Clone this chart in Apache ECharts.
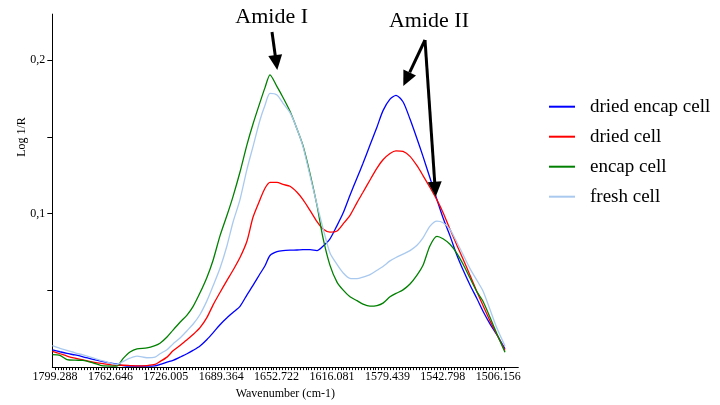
<!DOCTYPE html>
<html>
<head>
<meta charset="utf-8">
<script src="https://cdn.jsdelivr.net/npm/echarts@6/dist/echarts.min.js"></script>
<style>html,body{margin:0;padding:0;background:#fff;}#c{width:720px;height:405px;}</style>
</head>
<body>
<div id="c"></div>
<script>
// Wavenumbers (cm-1) at which values were read
const wavenumbers = [1801.0,1795.98,1791.35,1786.06,1780.77,1774.15,1767.54,1758.28,1754.31,1749.68,
1745.05,1738.44,1733.15,1729.84,1725.21,1721.24,1716.61,1711.98,1708.01,1703.38,
1698.76,1694.79,1690.16,1685.53,1681.56,1676.93,1672.30,1668.33,1663.70,1660.40,
1657.09,1652.46,1648.49,1643.86,1639.23,1635.26,1630.63,1626.00,1622.04,1617.41,
1612.78,1608.81,1604.18,1599.55,1595.58,1590.95,1586.32,1582.35,1577.72,1573.76,
1569.13,1564.50,1559.87,1555.90,1551.27,1546.64,1542.67,1538.04,1533.41,1529.44,
1524.81,1520.18,1516.22,1511.59,1506.96,1501.67];

const driedEncapCell = [0.0113,0.0100,0.0089,0.0079,0.0067,0.0050,0.0036,0.0019,0.0010,0.0006,
0.0006,0.0006,0.0008,0.0017,0.0033,0.0044,0.0065,0.0087,0.0109,0.0138,
0.0180,0.0223,0.0276,0.0321,0.0356,0.0396,0.0471,0.0532,0.0608,0.0660,
0.0727,0.0752,0.0759,0.0762,0.0763,0.0765,0.0765,0.0759,0.0788,0.0836,
0.0922,0.1002,0.1120,0.1232,0.1328,0.1447,0.1565,0.1671,0.1746,0.1771,
0.1729,0.1616,0.1488,0.1373,0.1232,0.1090,0.0973,0.0855,0.0727,0.0634,
0.0535,0.0445,0.0364,0.0282,0.0209,0.0119];

const driedCell = [0.0102,0.0087,0.0072,0.0058,0.0047,0.0033,0.0023,0.0012,0.0012,0.0010,
0.0008,0.0010,0.0017,0.0036,0.0065,0.0106,0.0141,0.0179,0.0212,0.0257,
0.0324,0.0404,0.0486,0.0565,0.0631,0.0714,0.0822,0.0976,0.1091,0.1165,
0.1203,0.1203,0.1190,0.1178,0.1139,0.1091,0.1021,0.0948,0.0900,0.0880,
0.0887,0.0932,0.0989,0.1072,0.1139,0.1219,0.1296,0.1351,0.1392,0.1409,
0.1405,0.1373,0.1312,0.1248,0.1170,0.1088,0.1008,0.0898,0.0793,0.0704,
0.0599,0.0490,0.0401,0.0301,0.0211,0.0108];

const encapCell = [0.0081,0.0076,0.0049,0.0045,0.0044,0.0028,0.0008,0.0007,0.0055,0.0098,
0.0119,0.0125,0.0140,0.0155,0.0196,0.0241,0.0292,0.0339,0.0394,0.0484,
0.0586,0.0695,0.0855,0.0989,0.1111,0.1271,0.1450,0.1584,0.1725,0.1821,
0.1904,0.1827,0.1757,0.1667,0.1552,0.1443,0.1261,0.1053,0.0842,0.0663,
0.0554,0.0503,0.0458,0.0433,0.0410,0.0397,0.0401,0.0417,0.0458,0.0480,
0.0503,0.0541,0.0599,0.0663,0.0791,0.0852,0.0836,0.0800,0.0740,0.0672,
0.0580,0.0490,0.0429,0.0324,0.0215,0.0097];

const freshCell = [0.0140,0.0122,0.0109,0.0093,0.0079,0.0060,0.0040,0.0017,0.0036,0.0058,
0.0072,0.0061,0.0065,0.0087,0.0113,0.0151,0.0189,0.0237,0.0279,0.0343,
0.0433,0.0528,0.0644,0.0791,0.0944,0.1091,0.1290,0.1437,0.1610,0.1706,
0.1783,0.1773,0.1719,0.1658,0.1552,0.1437,0.1248,0.1059,0.0906,0.0743,
0.0669,0.0615,0.0578,0.0576,0.0586,0.0602,0.0631,0.0656,0.0692,0.0714,
0.0736,0.0759,0.0794,0.0842,0.0919,0.0951,0.0941,0.0898,0.0812,0.0733,
0.0642,0.0564,0.0496,0.0375,0.0253,0.0138];

const xTickLabels = [1799.288,1762.646,1726.005,1689.364,1652.722,1616.081,1579.439,1542.798,1506.156];
const yTickLabels = [0.1, 0.2];
const seriesNames = ['dried encap cell','dried cell','encap cell','fresh cell'];
const seriesColors = ['#0000ff','#ff0000','#008000','#a9c9ef'];

// minor ticks at the instrument sampling step between labelled ticks
const step = (xTickLabels[0]-xTickLabels[1])/19;
const minorTicks = [];
for (let k = 0; k <= 154; k++) minorTicks.push(+(xTickLabels[0] - k*step).toFixed(4));

const font = 'Liberation Serif';
const pair = arr => wavenumbers.map((w,i)=>[w, arr[i]]);
const seriesData = [driedEncapCell, driedCell, encapCell, freshCell];

const chart = echarts.init(document.getElementById('c'), null, {renderer:'canvas'});
chart.setOption({
  animation: false,
  backgroundColor: '#fff',
  grid: {left: 52.3, right: 201.7, top: 14.1, bottom: 31.4, containLabel: false},
  xAxis: {
    type: 'value', inverse: true, min: 1492.87, max: 1801.07,
    name: 'Wavenumber (cm-1)', nameLocation: 'middle', nameGap: 17,
    nameTextStyle: {fontFamily: font, fontSize: 12, color: '#000'},
    axisLine: {show: true, lineStyle: {color: '#000', width: 1}},
    axisTick: {show: true, inside: false, length: 3, customValues: minorTicks, lineStyle: {color: '#000'}},
    axisLabel: {customValues: xTickLabels, margin: 4, fontFamily: font, fontSize: 12, color: '#000',
      formatter: v => v.toFixed(3)},
    splitLine: {show: false}
  },
  yAxis: {
    type: 'value', min: 0, max: 0.23,
    axisLine: {show: true, lineStyle: {color: '#000', width: 1}},
    axisTick: {show: true, inside: false, length: 5, customValues: [0.05,0.1,0.15,0.2], lineStyle: {color: '#000'}},
    axisLabel: {customValues: yTickLabels, margin: 7, fontFamily: font, fontSize: 12, color: '#000',
      formatter: v => String(+v.toFixed(2)).replace('.', ',')},
    splitLine: {show: false}
  },
  legend: {
    orient: 'vertical', left: 549, top: 96.7, padding: 0,
    itemWidth: 26, itemHeight: 2, itemGap: 10, icon: 'rect',
    data: seriesNames,
    textStyle: {fontFamily: font, fontSize: 19, color: '#000', lineHeight: 20, padding: [0,0,0,10]}
  },
  series: seriesNames.map((n,i)=>({
    name: n, type: 'line', data: pair(seriesData[i]),
    showSymbol: false, symbol: 'none', smooth: 0.25,
    lineStyle: {color: seriesColors[i], width: 1.3},
    itemStyle: {color: seriesColors[i]},
    z: 2
  })),
  graphic: [
    {type: 'text', x: 22, y: 137, rotation: Math.PI/2,
     style: {text: 'Log 1/R', fontFamily: font, fontSize: 12, fill: '#000', align: 'center', verticalAlign: 'middle'}},
    {type: 'text', x: 271.7, y: 17.5,
     style: {text: 'Amide I', fontFamily: font, fontSize: 22, fill: '#000', align: 'center', verticalAlign: 'middle'}},
    {type: 'text', x: 429, y: 21.5,
     style: {text: 'Amide II', fontFamily: font, fontSize: 22, fill: '#000', align: 'center', verticalAlign: 'middle'}},
    {type: 'line', shape: {x1: 272, y1: 32, x2: 275.3, y2: 56}, style: {stroke: '#000', lineWidth: 3}, z: 10},
    {type: 'polygon', shape: {points: [[277.3,70],[282.1,54.2],[268.3,56.1]]}, style: {fill: '#000'}, z: 10},
    {type: 'line', shape: {x1: 425, y1: 40, x2: 409.7, y2: 72.4}, style: {stroke: '#000', lineWidth: 3}, z: 10},
    {type: 'polygon', shape: {points: [[403.3,86],[416.0,75.4],[403.4,69.4]]}, style: {fill: '#000'}, z: 10},
    {type: 'line', shape: {x1: 425, y1: 40, x2: 434.7, y2: 182}, style: {stroke: '#000', lineWidth: 3}, z: 10},
    {type: 'polygon', shape: {points: [[435.7,196.7],[441.7,181.2],[427.7,182.2]]}, style: {fill: '#000'}, z: 10}
  ]
});
</script>
</body>
</html>
